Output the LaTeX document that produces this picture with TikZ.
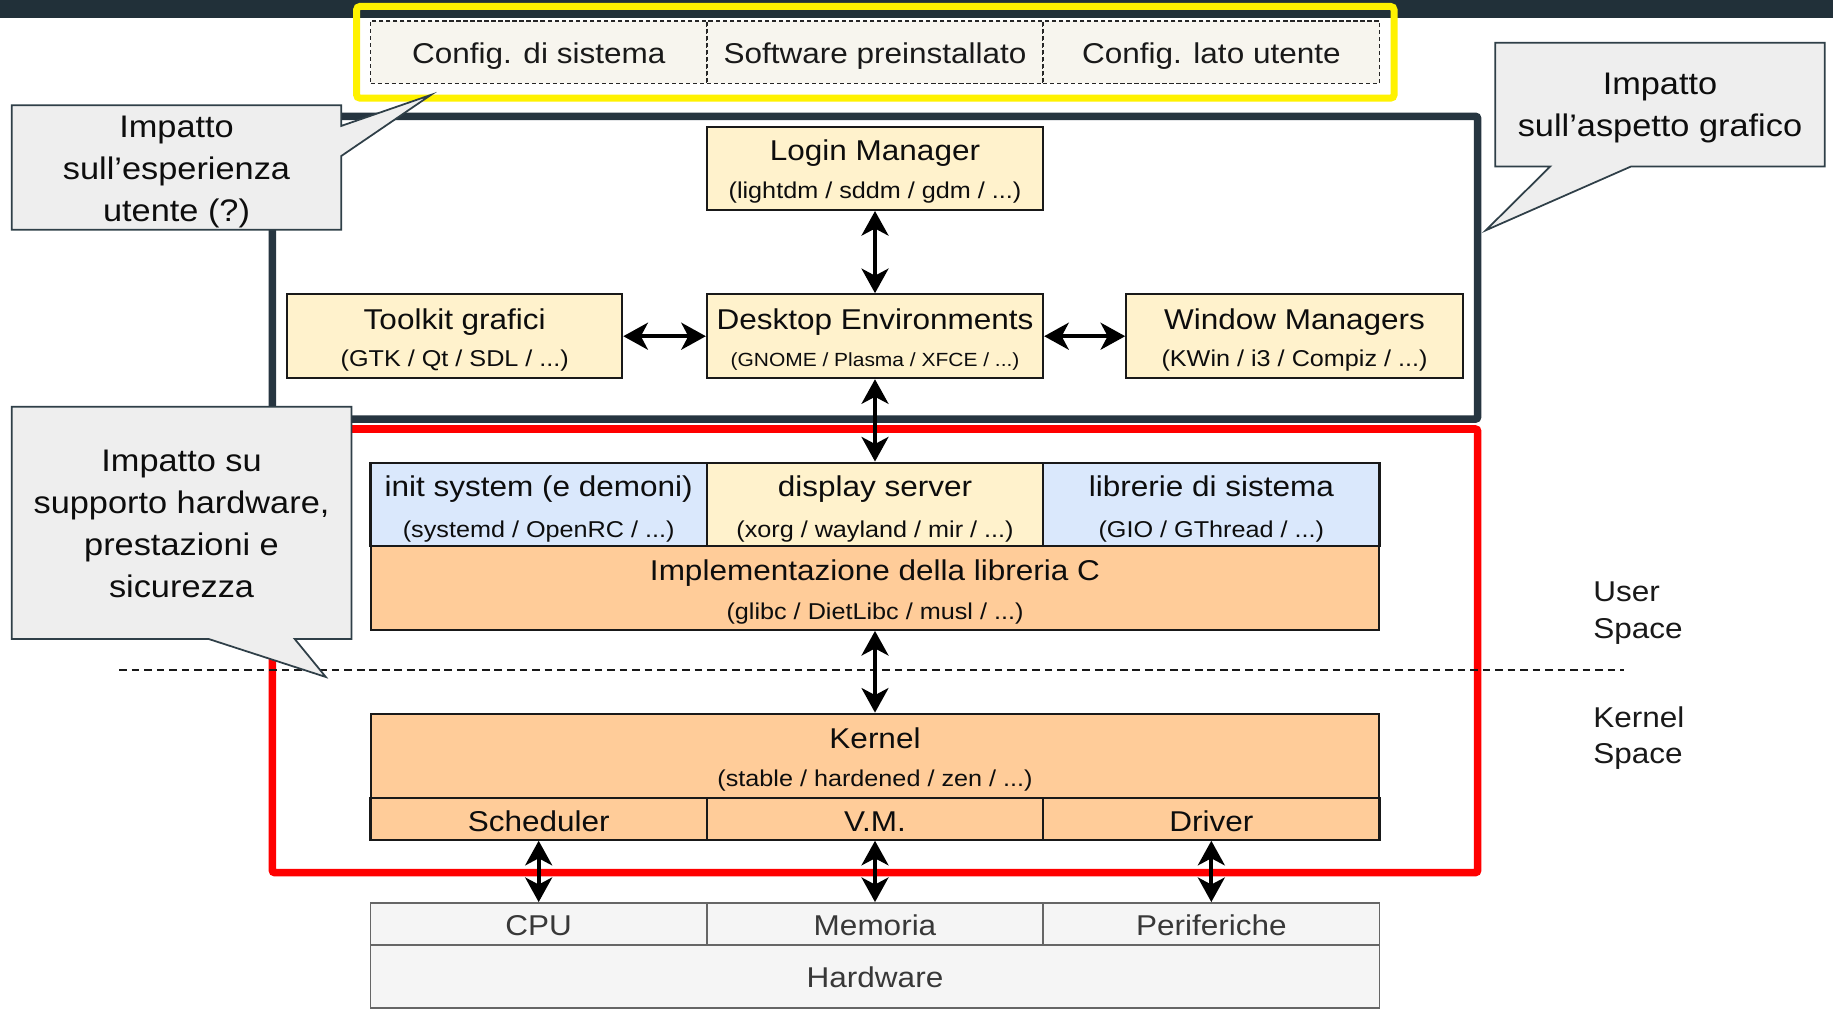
\documentclass[tikz,border=0pt]{standalone}
\usepackage{fontspec}
\setmainfont{Liberation Sans}[FakeStretch=1.1]
\usetikzlibrary{arrows.meta}
\newcommand\myfM{\fontsize{24.5}{29}\selectfont}
\newcommand\myfS{\fontsize{19.6}{23}\selectfont}
\newcommand\myfG{\fontsize{16.3}{20}\selectfont}
\newcommand\myfC{\fontsize{26.7}{32}\selectfont}
\definecolor{topbar}{HTML}{213039}
\definecolor{darkframe}{HTML}{263540}
\definecolor{calloutfill}{HTML}{EEEEEE}
\definecolor{calloutdraw}{HTML}{2F3F48}
\definecolor{yfill}{HTML}{FFF2CC}
\definecolor{bfill}{HTML}{DAE8FC}
\definecolor{ofill}{HTML}{FFCC99}
\definecolor{hfill}{HTML}{F5F5F5}
\definecolor{hdraw}{HTML}{666666}
\definecolor{cfill}{HTML}{F7F5EE}
\begin{document}
\begin{tikzpicture}[x=1pt,y=-1pt,
  box/.style={rectangle, draw=black!90, line width=1.8pt, inner sep=0pt},
  ybox/.style={box, fill=yfill},
  bbox/.style={box, fill=bfill},
  obox/.style={box, fill=ofill},
  hbox/.style={rectangle, draw=hdraw, line width=1.5pt, fill=hfill, inner sep=0pt},
  cbox/.style={rectangle, draw=black!85, line width=1.4pt, dash pattern=on 3.6pt off 2.4pt, fill=cfill, inner sep=0pt},
  ttl/.style={anchor=base, inner sep=0pt, font=\myfM, text=black!95},
  sub/.style={anchor=base, inner sep=0pt, font=\myfS, text=black!95},
  htxt/.style={anchor=base, inner sep=0pt, font=\myfM, text=black!78},
  ctxt/.style={anchor=base, inner sep=0pt, font=\myfC, text=black!95},
  callout/.style={fill=calloutfill, draw=calloutdraw, line width=1.5pt, line join=miter},
  biarrow/.style={line width=3.4pt, {Stealth[length=21pt,width=23pt,inset=6pt]}-{Stealth[length=21pt,width=23pt,inset=6pt]}}
]
\useasboundingbox (0,0) rectangle (1568,865);
\fill[white] (0,0) rectangle (1568,865);
% top bar
\fill[topbar] (0,0) rectangle (1568,15.7);
% yellow frame
\draw[yellow, line width=6pt, rounded corners=3pt] (305,5.5) rectangle (1192.5,84);
% config cells
\node[cbox, minimum width=287.7, minimum height=53.6] (cfgsys) at (460.8,44.5) {};
\node[cbox, minimum width=287.7, minimum height=53.6] (cfgsw) at (748.5,44.5) {};
\node[cbox, minimum width=287.7, minimum height=53.6] (cfgusr) at (1036.2,44.5) {};
\node[ttl, text=black!90] (cfgsyst) at (460.8,54.7) {Config. di sistema};
\node[ttl, text=black!90] (cfgswt) at (748.5,54.7) {Software preinstallato};
\node[ttl, text=black!90] (cfgusrt) at (1036.2,54.7) {Config. lato utente};
% frames
\draw[darkframe, line width=6.5pt, rounded corners=2pt] (233,99.5) rectangle (1264,358.5);
\draw[red, line width=6.5pt, rounded corners=2pt] (233,367) rectangle (1264,746.4);
% user / kernel separator
\draw[black!90, line width=1.8pt, dash pattern=on 6.5pt off 4.2pt] (102,573.5) -- (1389,573.5);
\node[anchor=base west, inner sep=0pt, font=\myfM, text=black!90] (user1) at (1362.7,514.4) {User};
\node[anchor=base west, inner sep=0pt, font=\myfM, text=black!90] (user2) at (1362.7,545.8) {Space};
\node[anchor=base west, inner sep=0pt, font=\myfM, text=black!90] (kern1) at (1362.7,622.2) {Kernel};
\node[anchor=base west, inner sep=0pt, font=\myfM, text=black!90] (kern2) at (1362.7,653.5) {Space};
% graphical layer
\node[ybox, minimum width=287.6, minimum height=71.2] (login) at (748.5,144) {};
\node[ttl] (logint) at (748.5,137.7) {Login Manager};
\node[sub] (logins) at (748.5,169.6) {(lightdm / sddm / gdm / ...)};
\node[ybox, minimum width=286.6, minimum height=71.8] (tool) at (389,287.6) {};
\node[ttl] (toolt) at (389,282.2) {Toolkit grafici};
\node[sub] (tools) at (389,313.6) {(GTK / Qt / SDL / ...)};
\node[ybox, minimum width=287.6, minimum height=71.8] (desk) at (748.5,287.6) {};
\node[ttl] (deskt) at (748.5,282.2) {Desktop Environments};
\node[sub, font=\myfG] (desks) at (748.5,313.6) {(GNOME / Plasma / XFCE / ...)};
\node[ybox, minimum width=288, minimum height=71.8] (wm) at (1107.4,287.6) {};
\node[ttl] (wmt) at (1107.4,282.2) {Window Managers};
\node[sub] (wms) at (1107.4,313.6) {(KWin / i3 / Compiz / ...)};
% system layer
\node[bbox, minimum width=287.7, minimum height=71.7] (init) at (460.8,431.55) {};
\node[ttl] (initt) at (460.8,424.7) {init system (e demoni)};
\node[sub] (inits) at (460.8,459.4) {(systemd / OpenRC / ...)};
\node[ybox, minimum width=287.7, minimum height=71.7] (disp) at (748.5,431.55) {};
\node[ttl] (dispt) at (748.5,424.7) {display server};
\node[sub] (disps) at (748.5,459.4) {(xorg / wayland / mir / ...)};
\node[bbox, minimum width=287.7, minimum height=71.7] (libs) at (1036.2,431.55) {};
\node[ttl] (libst) at (1036.2,424.7) {librerie di sistema};
\node[sub] (libss) at (1036.2,459.4) {(GIO / GThread / ...)};
\node[obox, minimum width=863, minimum height=71.4] (impl) at (748.5,503.1) {};
\node[ttl] (implt) at (748.5,496.5) {Implementazione della libreria C};
\node[sub] (impls) at (748.5,530) {(glibc / DietLibc / musl / ...)};
% kernel
\node[obox, minimum width=863, minimum height=72.1] (kernel) at (748.5,646.55) {};
\node[ttl] (kernelt) at (748.5,640.5) {Kernel};
\node[sub] (kernels) at (748.5,673.2) {(stable / hardened / zen / ...)};
\node[obox, minimum width=287.7, minimum height=35.7] (sched) at (460.8,700.45) {};
\node[obox, minimum width=287.7, minimum height=35.7] (vm) at (748.5,700.45) {};
\node[obox, minimum width=287.7, minimum height=35.7] (drv) at (1036.2,700.45) {};
\node[ttl] (schedt) at (460.8,711.2) {Scheduler};
\node[ttl] (vmt) at (748.5,711.2) {V.M.};
\node[ttl] (drvt) at (1036.2,711.2) {Driver};
% hardware
\node[hbox, minimum width=287.7, minimum height=36.2] (cpu) at (460.8,790.5) {};
\node[hbox, minimum width=287.7, minimum height=36.2] (mem) at (748.5,790.5) {};
\node[hbox, minimum width=287.7, minimum height=36.2] (per) at (1036.2,790.5) {};
\node[hbox, minimum width=863, minimum height=53.4] (hw) at (748.5,835.3) {};
\node[htxt] (cput) at (460.8,800.3) {CPU};
\node[htxt] (memt) at (748.5,800.3) {Memoria};
\node[htxt] (pert) at (1036.2,800.3) {Periferiche};
\node[htxt] (hwt) at (748.5,845) {Hardware};
% arrows
\draw[biarrow] (login.south) -- (desk.north);
\draw[biarrow] (tool.east) -- (desk.west);
\draw[biarrow] (desk.east) -- (wm.west);
\draw[biarrow] (desk.south) -- (disp.north);
\draw[biarrow] (impl.south) -- (kernel.north);
\draw[biarrow] (sched.south) -- (cpu.north);
\draw[biarrow] (vm.south) -- (mem.north);
\draw[biarrow] (drv.south) -- (per.north);
% callouts
\draw[callout] (10,90) -- (292,90) -- (292,107.7) -- (368.6,81.2) -- (292,133.4) -- (292,196.6) -- (10,196.6) -- cycle;
\node[ctxt] (c1a) at (151,117.4) {Impatto};
\node[ctxt] (c1b) at (151,153.4) {sull’esperienza};
\node[ctxt] (c1c) at (151,189.4) {utente (?)};
\draw[callout] (1279,36.5) -- (1561,36.5) -- (1561,142.5) -- (1395,142.5) -- (1271,197) -- (1326,142.5) -- (1279,142.5) -- cycle;
\node[ctxt] (c2a) at (1420,81.2) {Impatto};
\node[ctxt] (c2b) at (1420,116.9) {sull’aspetto grafico};
\draw[callout] (10,348) -- (300.6,348) -- (300.6,546.7) -- (252.2,546.7) -- (278.7,579.1) -- (178.8,546.7) -- (10,546.7) -- cycle;
\node[ctxt] (c3a) at (155.3,403.3) {Impatto su};
\node[ctxt] (c3b) at (155.3,439.3) {supporto hardware,};
\node[ctxt] (c3c) at (155.3,475.3) {prestazioni e};
\node[ctxt] (c3d) at (155.3,511.3) {sicurezza};
\end{tikzpicture}
\end{document}
